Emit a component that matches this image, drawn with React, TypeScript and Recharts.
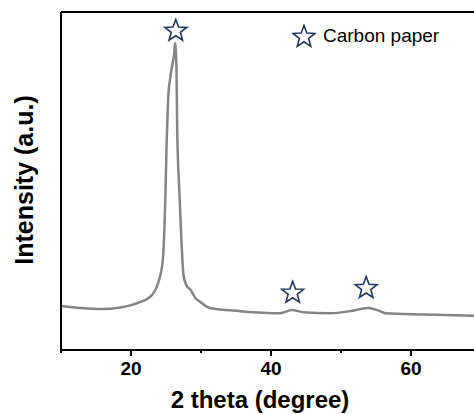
import React from "react";
import { ComposedChart, Line, Scatter, XAxis, YAxis, ReferenceLine, Legend } from "recharts";

// XRD pattern of carbon paper
const twoTheta = [
  10.0, 12.8, 16.0, 18.5, 19.9, 21.3, 22.3, 23.0, 23.6, 24.0, 24.3, 24.6, 24.9, 25.1, 25.3, 25.6, 25.9,
  26.2, 26.3, 26.5, 26.6, 26.9, 27.2, 27.5, 27.9, 28.5, 29.2, 29.9, 31.3, 35.6, 41.3, 43.0, 44.6, 48.5,
  51.3, 53.9, 55.2, 56.3, 62.0, 69.0,
];
const intensity = [
  13.0, 12.4, 12.1, 12.6, 13.2, 14.2, 15.1, 16.3, 18.3, 20.7, 23.1, 28.1, 44.4, 62.1, 74.0, 80.5, 84.3,
  88.2, 90.8, 82.8, 65.1, 47.3, 32.5, 22.2, 19.2, 17.8, 15.4, 14.2, 12.4, 11.5, 10.9, 11.8, 11.2, 10.9,
  11.5, 12.4, 11.8, 10.9, 10.5, 10.1,
];
// star markers for carbon paper reflections
const starTheta = [26.4, 43.1, 53.6];
const starIntensity = [94.4, 16.9, 18.3];

const xTicks = [10, 20, 30, 40, 50, 60];

const curve = twoTheta.map((x, i) => ({ x, y: intensity[i] }));
const stars = starTheta.map((x, i) => ({ x, y: starIntensity[i] }));

const FONT = "Arial, 'Liberation Sans', Helvetica, sans-serif";
const NAVY = "#1f3864";

function starPath(cx: number, cy: number, r: number) {
  const pts: string[] = [];
  for (let i = 0; i < 10; i++) {
    const rad = i % 2 === 0 ? r : r * 0.42;
    const a = -Math.PI / 2 + (i * Math.PI) / 5;
    pts.push(`${(cx + rad * Math.cos(a)).toFixed(2)},${(cy + rad * Math.sin(a)).toFixed(2)}`);
  }
  return `M${pts.join("L")}Z`;
}

const StarShape = (props: any) => (
  <path d={starPath(props.cx, props.cy, 11.5)} fill="none" stroke={NAVY} strokeWidth={1.6} />
);

const XTick = ({ x, y, payload }: any) => {
  const major = payload.value % 20 === 0;
  return (
    <g>
      <line x1={x} x2={x} y1={y} y2={y + (major ? 6 : 3)} stroke="#000" strokeWidth={2} />
      {major && (
        <text x={x} y={y + 25} textAnchor="middle" fontFamily={FONT} fontWeight="bold" fontSize={19} fill="#000">
          {payload.value}
        </text>
      )}
    </g>
  );
};

const LegendBox = () => (
  <div style={{ display: "flex", alignItems: "center", fontFamily: FONT, fontSize: 19, color: "#000" }}>
    <svg width={24} height={24} style={{ marginRight: 7 }}>
      <path d={starPath(12, 13, 11.5)} fill="none" stroke={NAVY} strokeWidth={1.6} />
    </svg>
    <span>Carbon paper</span>
  </div>
);

export default function App() {
  return (
    <div style={{ position: "absolute", left: 0, top: 0, background: "#fff" }}>
      <ComposedChart width={474} height={414} margin={{ top: 12, right: 0, bottom: 0, left: 0 }}>
        <XAxis
          type="number"
          dataKey="x"
          domain={[10, 69]}
          ticks={xTicks}
          allowDataOverflow
          height={64}
          axisLine={{ stroke: "#000", strokeWidth: 2 }}
          tickLine={false}
          tickSize={0}
          tickMargin={0}
          tick={<XTick />}
          label={{
            content: () => (
              <text x={260} y={408} textAnchor="middle" fontFamily={FONT} fontWeight="bold" fontSize={24} fill="#000">
                2 theta (degree)
              </text>
            ),
          }}
        />
        <YAxis
          type="number"
          domain={[0, 100]}
          width={61}
          tick={false}
          tickLine={false}
          axisLine={{ stroke: "#000", strokeWidth: 2 }}
          label={{
            content: () => (
              <text
                x={33}
                y={180}
                transform="rotate(-90 33 180)"
                textAnchor="middle"
                fontFamily={FONT}
                fontWeight="bold"
                fontSize={25}
                fill="#000"
              >
                Intensity (a.u.)
              </text>
            ),
          }}
        />
        <ReferenceLine y={100} stroke="#000" strokeWidth={2} />
        <Legend
          layout="horizontal"
          verticalAlign="middle"
          align="center"
          content={() => <LegendBox />}
          wrapperStyle={{ top: 24, left: 292, width: 180 }}
        />
        <Line
          data={curve}
          dataKey="y"
          type="monotone"
          stroke="#858585"
          strokeWidth={2.5}
          dot={false}
          isAnimationActive={false}
          legendType="none"
        />
        <Scatter data={stars} dataKey="y" shape={<StarShape />} isAnimationActive={false} legendType="none" />
      </ComposedChart>
    </div>
  );
}
